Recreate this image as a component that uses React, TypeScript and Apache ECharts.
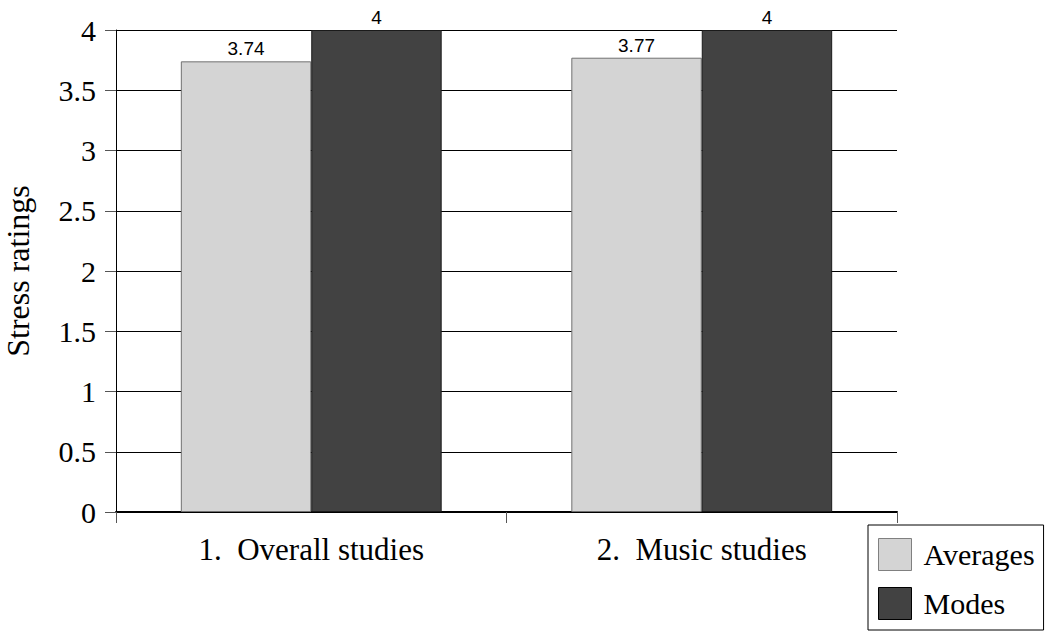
import React, { useEffect, useRef } from "react";
import * as echarts from "echarts";

const categories = ["1.  Overall studies", "2.  Music studies"];
const averages = [3.74, 3.77];
const modes = [4, 4];
const yTicks = { min: 0, max: 4, interval: 0.5 };

export default function App() {
  const ref = useRef<HTMLDivElement>(null);
  useEffect(() => {
    document.body.style.margin = "0";
    const chart = echarts.init(ref.current!, null, { renderer: "svg" });
    const serif = "Liberation Serif";
    chart.setOption({
      animation: false,
      backgroundColor: "#ffffff",
      grid: { left: 116, right: 151, top: 30, bottom: 119, containLabel: false, outerBoundsMode: "none" },
      legend: {
        orient: "vertical",
        left: 868,
        top: 525,
        height: 110,
        padding: [13, 9, 10, 10],
        itemWidth: 33,
        itemHeight: 32,
        itemGap: 16,
        borderColor: "#000",
        borderWidth: 1,
        borderRadius: 0,
        icon: "rect",
        textStyle: { fontFamily: serif, fontSize: 30, lineHeight: 32, color: "#000", padding: [0, 0, 0, 7] },
        data: [
          { name: "Averages", itemStyle: { color: "#d4d4d4", borderColor: "#808080", borderWidth: 1 } },
          { name: "Modes", itemStyle: { color: "#424242", borderColor: "#000", borderWidth: 1 } },
        ],
      },
      xAxis: {
        type: "category",
        data: categories,
        axisLine: { lineStyle: { color: "#000", width: 2 } },
        axisTick: { show: true, length: 11, lineStyle: { color: "#555", width: 1 } },
        axisLabel: { fontFamily: serif, fontSize: 31, color: "#000", margin: 22 },
      },
      yAxis: {
        type: "value",
        min: yTicks.min,
        max: yTicks.max,
        interval: yTicks.interval,
        name: "Stress ratings",
        nameLocation: "middle",
        nameRotate: 90,
        nameGap: 82,
        nameTextStyle: { fontFamily: serif, fontSize: 32, color: "#000" },
        axisLine: { show: true, lineStyle: { color: "#000", width: 1 } },
        axisTick: { show: true, length: 11, lineStyle: { color: "#555", width: 1 } },
        axisLabel: { fontFamily: serif, fontSize: 30, color: "#000", margin: 20 },
        splitLine: { show: true, lineStyle: { color: "#000", width: 1 } },
      },
      series: [
        {
          name: "Averages",
          type: "bar",
          data: averages,
          barGap: "0%",
          barCategoryGap: "33.2%",
          itemStyle: { color: "#d4d4d4", borderColor: "#707070", borderWidth: 1 },
          label: {
            show: true,
            position: "top",
            distance: 3,
            fontFamily: "Liberation Sans",
            fontSize: 19,
            color: "#000",
          },
        },
        {
          name: "Modes",
          type: "bar",
          data: modes,
          barGap: "0%",
          barCategoryGap: "33.2%",
          itemStyle: { color: "#424242", borderColor: "#1a1a1a", borderWidth: 1 },
          label: {
            show: true,
            position: "top",
            distance: 3,
            fontFamily: "Liberation Sans",
            fontSize: 19,
            color: "#000",
          },
        },
      ],
    });
    return () => chart.dispose();
  }, []);
  return <div ref={ref} style={{ width: 1048, height: 631 }} />;
}
